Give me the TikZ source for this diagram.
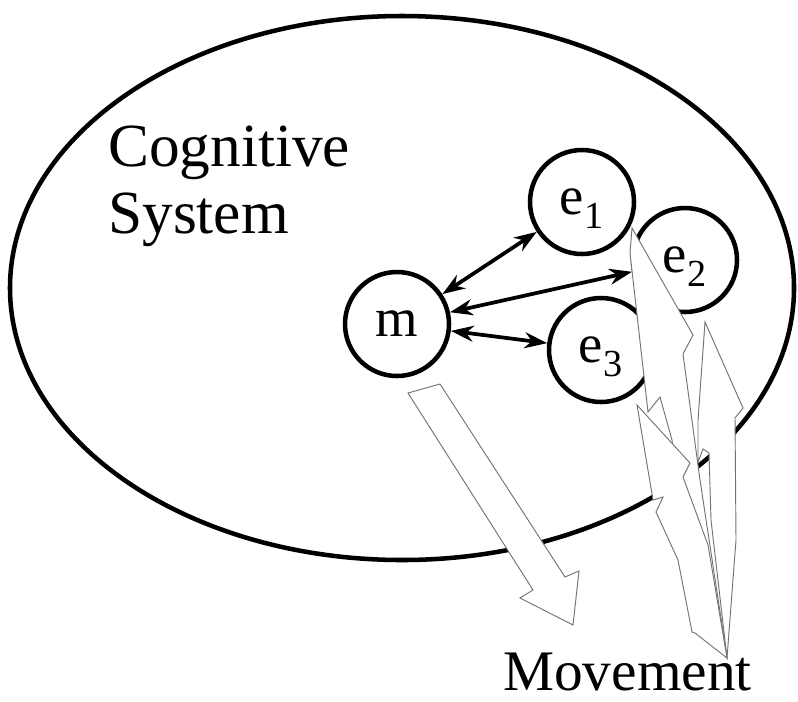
\documentclass[tikz,border=0pt]{standalone}
\usepackage{fontspec}
\setmainfont{Liberation Serif}
\usetikzlibrary{arrows.meta, positioning}

\begin{document}
\begin{tikzpicture}[
  x=0.75pt, y=-0.75pt,
  agent/.style={circle, draw, line width=3.4pt, minimum size=78pt, inner sep=0pt, text depth=0pt, font=\fontsize{41}{41}\selectfont},
  link/.style={{Stealth[length=17pt, width=12pt]}-{Stealth[length=17pt, width=12pt]}, line width=2.8pt},
  bolt/.style={draw=black!55, fill=white, line width=0.7pt},
  bigtext/.style={font=\fontsize{46}{50}\selectfont, inner sep=0pt},
]
  \useasboundingbox (0,0) rectangle (798,701);

  % System boundary
  \draw[line width=3.4pt] (402,288) ellipse [x radius=294pt, y radius=204pt];
  \node[bigtext, align=left, anchor=base west] (cog) at (108,233) {Cognitive\\System};

  % Nodes
  \node[agent] (m) at (397,324) {m};
  \node[agent] (e1) at (582,202) {e\textsubscript{1}};
  \node[agent] (e2) at (685,260) {e\textsubscript{2}};
  \node[agent] (e3) at (601,350) {e\textsubscript{3}};

  % Arrows
  \draw[link] (m) -- (e1);
  \draw[link] (m) -- (e2);
  \draw[link] (m) -- (e3);

  % Movement arrows
  \draw[bolt] (408,393) -- (533,590) -- (520,598) -- (573,625) -- (579,571) -- (565,577) -- (440,384) -- cycle;
  \draw[bolt] (632,228) -- (693,335) -- (683,354) -- (700,480) -- (727,658) -- (690,600) -- (672,440) -- (660,397) -- (648,412) -- (630,253) -- cycle;
  \draw[bolt] (705,322) -- (743,408) -- (735,418) -- (736,540) -- (727,658) -- (711,520) -- (709,453) -- (703,449) -- (698,462) -- (698,420) -- cycle;
  \draw[bolt] (637,405) -- (690,463) -- (683,477) -- (708,545) -- (727,658) -- (695,633) -- (692,632) -- (678,560) -- (656,512) -- (663,497) -- (653,500) -- cycle;

  \node[font=\fontsize{43}{43}\selectfont, inner sep=0pt, anchor=base west] (move) at (503,690) {Movement};
\end{tikzpicture}
\end{document}
